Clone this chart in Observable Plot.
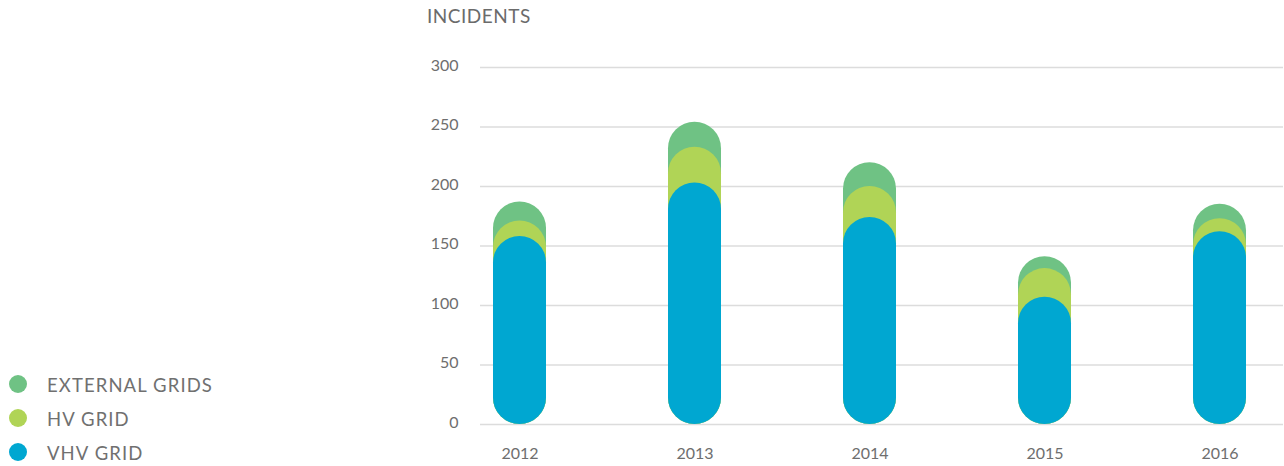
<!DOCTYPE html>
<html><head><meta charset="utf-8">
<script src="https://cdn.jsdelivr.net/npm/d3@7"></script>
<script src="https://cdn.jsdelivr.net/npm/@observablehq/plot@0.6"></script>
<style>
body{margin:0;background:#fff;font-family:Lato,"Open Sans",sans-serif;}
#wrap{position:relative;width:1284px;height:466px;overflow:hidden;}
#title{position:absolute;left:427px;top:4px;font-size:19px;line-height:24px;color:#6b6b6b;letter-spacing:0.5px;}
.item{position:absolute;left:0;height:24px;width:300px;}
.item .dot{position:absolute;left:9px;top:3px;width:18px;height:18px;border-radius:50%;}
.item .lab{position:absolute;left:47px;top:1px;font-size:18.5px;line-height:24px;color:#707070;letter-spacing:1.1px;}
</style></head><body>
<div id="wrap"><div id="chart"></div><div id="title">INCIDENTS</div><div id="legend"></div></div>
<script>
const years = ["2012", "2013", "2014", "2015", "2016"];
const seriesNames = ["EXTERNAL GRIDS", "HV GRID", "VHV GRID"];
const seriesColors = ["#6fc284", "#b0d456", "#00a7d1"];
const externalGrids = [187, 254, 220, 141, 185];
const hvGrid = [171, 233, 200, 131, 173];
const vhvGrid = [158, 203, 174, 107, 162];
const yTicks = [0, 50, 100, 150, 200, 250, 300];

const seriesValues = [externalGrids, hvGrid, vhvGrid];
const rows = seriesValues.map((vals, s) => years.map((y, i) => ({year: y, value: vals[i], series: seriesNames[s]})));

const step = 175.1, bw = 53;
const pi = 1 - bw / step;
const chart = Plot.plot({
  width: 1284,
  height: 466,
  marginTop: 67,
  marginBottom: 42,
  marginLeft: 480,
  marginRight: 1,
  style: {fontFamily: "Lato, 'Open Sans', sans-serif", fontSize: "16px", color: "#6e6e6e", background: "transparent"},
  x: {type: "band", domain: years, range: [519 - step / 2, 1219.5 + step / 2], paddingInner: pi, paddingOuter: pi / 2, align: 0.5},
  y: {domain: [0, 300]},
  marks: [
    Plot.ruleY(yTicks, {stroke: "#dcdcdc", strokeWidth: 1.5}),
    ...rows.map((r, s) => Plot.barY(r, {x: "year", y1: 0, y2: "value", fill: seriesColors[s], rx: bw / 2})),
    Plot.axisY(yTicks, {tickSize: 0, tickPadding: 22, fontSize: 16, label: null, dy: -2}),
    Plot.axisX({tickSize: 0, tickPadding: 23, fontSize: 16, label: null})
  ]
});
document.getElementById("chart").appendChild(chart);

const legend = document.getElementById("legend");
const centers = [384, 418, 452];
seriesNames.forEach((n, i) => {
  const d = document.createElement("div");
  d.className = "item";
  d.style.top = (centers[i] - 12) + "px";
  d.innerHTML = `<div class="dot" style="background:${seriesColors[i]}"></div><div class="lab">${n}</div>`;
  legend.appendChild(d);
});
</script>
</body></html>
